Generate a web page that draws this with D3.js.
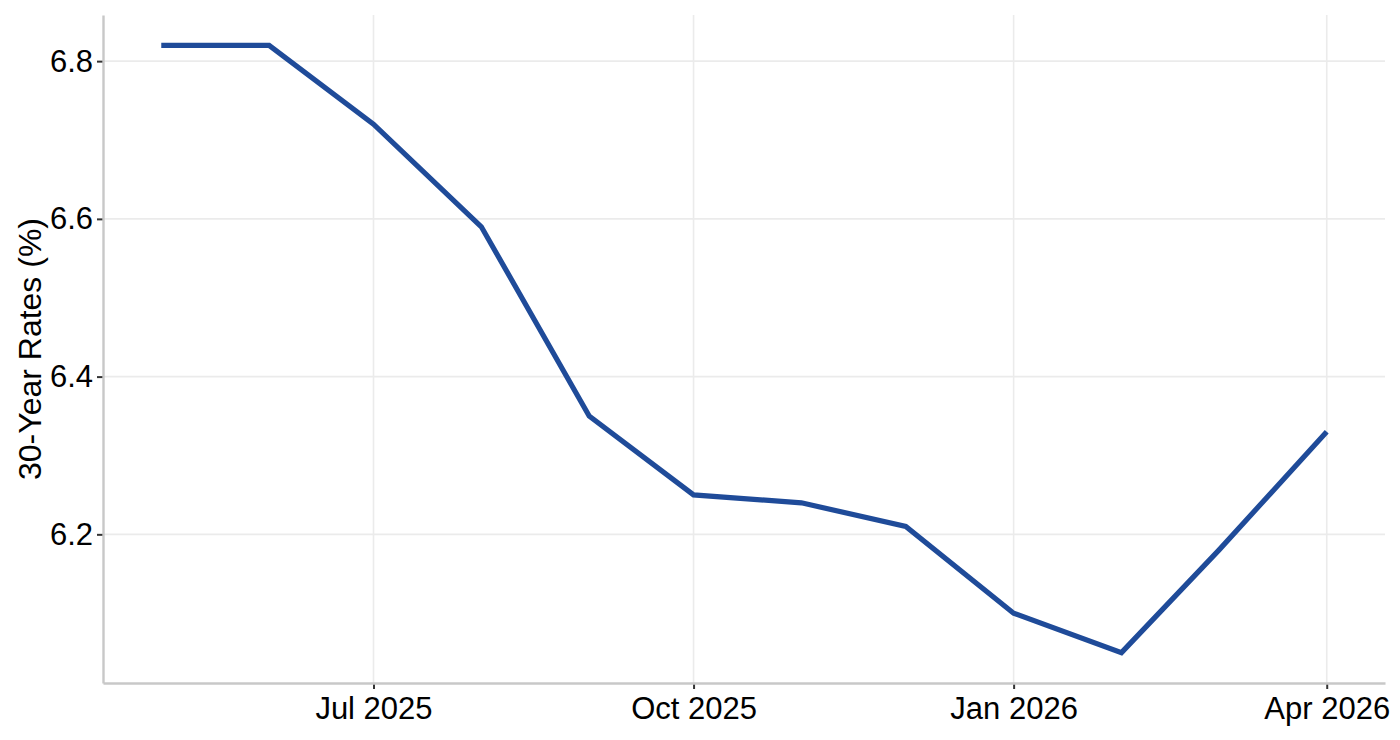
<!DOCTYPE html>
<html>
<head>
<meta charset="utf-8">
<script src="https://cdn.jsdelivr.net/npm/d3@7"></script>
<style>
  html, body { margin: 0; padding: 0; background: #fff; }
  svg { display: block; }
</style>
</head>
<body>
<div id="chart"></div>
<script>
const width = 1400;
const height = 740;

// monthly 30-year rates
const months = ["2025-05-01", "2025-06-01", "2025-07-01", "2025-08-01", "2025-09-01", "2025-10-01",
  "2025-11-01", "2025-12-01", "2026-01-01", "2026-02-01", "2026-03-01", "2026-04-01"];
const rates = [6.82, 6.82, 6.72, 6.59, 6.35, 6.25, 6.24, 6.21, 6.10, 6.05, 6.18, 6.33];
const yTicks = [6.2, 6.4, 6.6, 6.8];
const xTicks = ["2025-07-01", "2025-10-01", "2026-01-01", "2026-04-01"];
const yTitle = "30-Year Rates (%)";

const parse = d3.utcParse("%Y-%m-%d");
const data = months.map((m, i) => ({ date: parse(m), value: rates[i] }));

const margin = { top: 15, right: 15, bottom: 57, left: 103 };
const fontFamily = "'Liberation Sans', Arial, Helvetica, sans-serif";

// ggplot-style 5% expansion
const xExt = d3.extent(data, d => d.date);
const xPad = (xExt[1] - xExt[0]) * 0.05;
const yExt = d3.extent(data, d => d.value);
const yPad = (yExt[1] - yExt[0]) * 0.05;

const x = d3.scaleUtc()
  .domain([new Date(+xExt[0] - xPad), new Date(+xExt[1] + xPad)])
  .range([margin.left, width - margin.right]);

const y = d3.scaleLinear()
  .domain([yExt[0] - yPad, yExt[1] + yPad])
  .range([height - margin.bottom, margin.top]);

const svg = d3.select("#chart").append("svg")
  .attr("width", width)
  .attr("height", height)
  .attr("font-family", fontFamily);

// grid
svg.append("g")
  .selectAll("line")
  .data(yTicks)
  .join("line")
  .attr("x1", margin.left).attr("x2", width - margin.right)
  .attr("y1", d => y(d)).attr("y2", d => y(d))
  .attr("stroke", "#ebebeb")
  .attr("stroke-width", 1.6);

svg.append("g")
  .selectAll("line")
  .data(xTicks.map(parse))
  .join("line")
  .attr("x1", d => x(d)).attr("x2", d => x(d))
  .attr("y1", margin.top).attr("y2", height - margin.bottom)
  .attr("stroke", "#ebebeb")
  .attr("stroke-width", 1.6);

// line
const line = d3.line()
  .x(d => x(d.date))
  .y(d => y(d.value));

svg.append("path")
  .datum(data)
  .attr("fill", "none")
  .attr("stroke", "#1f4b99")
  .attr("stroke-width", 5.2)
  .attr("stroke-linejoin", "miter")
  .attr("d", line);

// axes
const xAxis = svg.append("g")
  .attr("transform", `translate(0,${height - margin.bottom})`)
  .call(d3.axisBottom(x)
    .tickValues(xTicks.map(parse))
    .tickFormat(d3.utcFormat("%b %Y"))
    .tickSize(6)
    .tickSizeOuter(0)
    .tickPadding(8));

const yAxis = svg.append("g")
  .attr("transform", `translate(${margin.left},0)`)
  .call(d3.axisLeft(y)
    .tickValues(yTicks)
    .tickFormat(d3.format(".1f"))
    .tickSize(6)
    .tickSizeOuter(0)
    .tickPadding(4));

[xAxis, yAxis].forEach(g => {
  g.select(".domain").attr("stroke", "#c8c8c8").attr("stroke-width", 2.4);
  g.selectAll(".tick line").attr("stroke", "#333").attr("stroke-width", 2);
  g.selectAll(".tick text")
    .attr("fill", "#000")
    .attr("font-size", 31)
    .attr("font-family", fontFamily);
});
// axis line drawn over the tick marks
xAxis.select(".domain").raise();
yAxis.select(".domain").raise();

svg.append("text")
  .attr("transform", `translate(41,${(margin.top + height - margin.bottom) / 2}) rotate(-90)`)
  .attr("text-anchor", "middle")
  .attr("font-size", 32)
  .attr("fill", "#000")
  .text(yTitle);
</script>
</body>
</html>
